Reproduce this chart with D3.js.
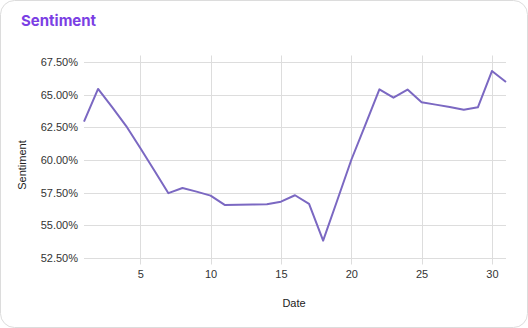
<!DOCTYPE html>
<html><head><meta charset="utf-8">
<script src="https://cdn.jsdelivr.net/npm/d3@7"></script>
<style>
html,body{margin:0;padding:0;background:#fff;}
svg{display:block;}
</style></head>
<body><svg id="chart" width="528" height="328"></svg>
<script>
const title = "Sentiment";
const xLabel = "Date";
const yLabel = "Sentiment";
const days = [1,2,3,4,5,6,7,8,9,10,11,12,13,14,15,16,17,18,19,20,21,22,23,24,25,26,27,28,29,30,31];
const sentiment = [0.6293,0.6544,0.6404,0.6260,0.6092,0.5920,0.5746,0.5786,0.5758,0.5727,0.5656,0.5657,0.5659,0.5661,0.5681,0.5730,0.5664,0.5383,0.5690,0.6000,0.6268,0.6541,0.6477,0.6539,0.6442,0.6424,0.6406,0.6385,0.6403,0.6681,0.6597];
const xTicks = [5,10,15,20,25,30];
const yTicks = [0.525,0.55,0.575,0.60,0.625,0.65,0.675];

const svg = d3.select("#chart");
svg.append("rect").attr("x",0.5).attr("y",0.5).attr("width",527).attr("height",327)
  .attr("rx",14).attr("fill","#fff").attr("stroke","#dcdcdc");
svg.append("text").attr("x",21).attr("y",26).text(title)
  .attr("font-family","Inter, 'Open Sans', sans-serif").attr("font-weight",700)
  .attr("font-size",15).attr("fill","#7b3fe4");

const x = d3.scaleLinear().domain([1,31]).range([84,506]);
const y = d3.scaleLinear().domain([0.52,0.68]).range([264.5,55.5]);

const g = svg.append("g");
// horizontal grid
g.selectAll(".hg").data(yTicks).join("line").attr("class","hg")
  .attr("x1",x.range()[0]).attr("x2",x.range()[1])
  .attr("y1",d=>Math.round(y(d))+0.5).attr("y2",d=>Math.round(y(d))+0.5)
  .attr("stroke","#dddddd").attr("stroke-width",1);
// vertical grid
g.selectAll(".vg").data(xTicks).join("line").attr("class","vg")
  .attr("y1",y.range()[1]).attr("y2",y.range()[0])
  .attr("x1",d=>Math.round(x(d))+0.5).attr("x2",d=>Math.round(x(d))+0.5)
  .attr("stroke","#dddddd").attr("stroke-width",1);

const font = "'Liberation Sans', Arial, sans-serif";
const yAxis = d3.axisLeft(y).tickValues(yTicks).tickFormat(d3.format(".2%")).tickSize(0).tickPadding(6);
const ya = svg.append("g").attr("transform","translate(84,0)").call(yAxis);
ya.select(".domain").remove();
ya.selectAll("text").attr("font-family",font).attr("font-size",11).attr("fill","#333");

const xAxis = d3.axisBottom(x).tickValues(xTicks).tickFormat(d3.format("d")).tickSize(0).tickPadding(5);
const xa = svg.append("g").attr("transform","translate(0,265)").call(xAxis);
xa.select(".domain").remove();
xa.selectAll("text").attr("font-family",font).attr("font-size",11).attr("fill","#333");

svg.append("text").attr("x",294).attr("y",307).attr("text-anchor","middle")
  .attr("font-family",font).attr("font-size",11).attr("fill","#222").text(xLabel);
svg.append("text").attr("transform","translate(26,165) rotate(-90)").attr("text-anchor","middle")
  .attr("font-family",font).attr("font-size",11).attr("fill","#222").text(yLabel);

const data = days.map((d,i)=>({d, v: sentiment[i]}));
svg.append("path").datum(data)
  .attr("fill","none").attr("stroke","#7b68c2").attr("stroke-width",2)
  .attr("stroke-linejoin","round")
  .attr("d", d3.line().x(p=>x(p.d)).y(p=>y(p.v)));
</script></body></html>
